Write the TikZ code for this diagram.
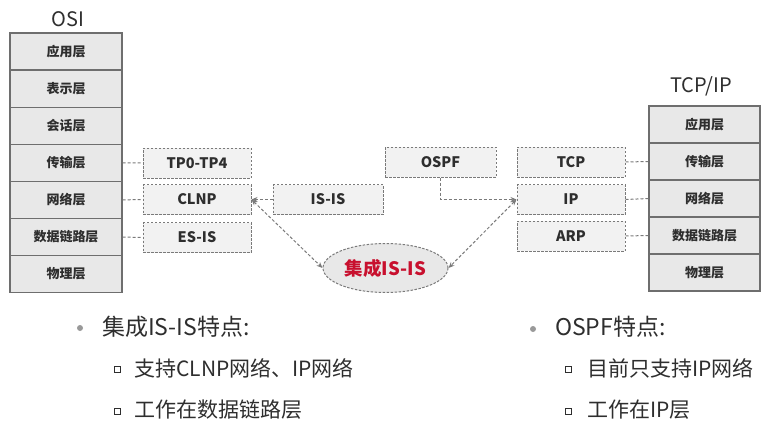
\documentclass[tikz,border=0pt]{standalone}
\usepackage{fontspec}
\setmainfont{Noto Sans CJK SC}
\usetikzlibrary{arrows.meta,shapes.geometric}

\definecolor{layerfill}{HTML}{E8E8E8}
\definecolor{layerline}{HTML}{6E6E6E}
\definecolor{boxfill}{HTML}{F2F2F2}
\definecolor{boxline}{HTML}{7A7A7A}
\definecolor{txt}{HTML}{2E2E2E}
\definecolor{corered}{HTML}{C8102E}

\begin{document}
\begin{tikzpicture}[x=1pt, y=-1pt,
    layer/.style={draw=layerline, fill=layerfill, line width=1.1pt,
      minimum width=112pt, minimum height=37pt, inner sep=0pt, text=txt,
      font=\fontsize{13}{13}\selectfont\bfseries},
    proto/.style={draw=boxline, fill=boxfill, line width=1pt,
      dash pattern=on 2.5pt off 1.5pt, minimum width=108pt, minimum height=30pt,
      inner sep=0pt, text=txt, font=\fontsize{14.5}{14.5}\selectfont\bfseries},
    link/.style={draw=boxline, line width=1pt, dash pattern=on 3pt off 2pt},
    tipend/.style={-{Stealth[length=6pt,width=5pt]}},
    tipboth/.style={{Stealth[length=6pt,width=5pt]}-{Stealth[length=6pt,width=5pt]}},
    title/.style={text=txt, font=\fontsize{20}{20}\selectfont},
    point/.style={anchor=west, inner sep=0pt, text=txt, font=\fontsize{23}{23}\selectfont},
    subpoint/.style={anchor=west, inner sep=0pt, text=txt, font=\fontsize{21}{21}\selectfont}]
    \useasboundingbox (0,0) rectangle (763,423);

    % OSI stack
    \node[title] (osi) at (68,19) {OSI};
    \foreach \n/\t in {1/应用层, 2/表示层, 3/会话层, 4/传输层, 5/网络层, 6/数据链路层, 7/物理层}
        \node[layer] (osi\n) at (66,{51.5+37.1*(\n-1)}) {\t};

    % TCP/IP stack
    \node[title] (tcpip) at (701,86) {TCP/IP};
    \foreach \n/\t in {1/应用层, 2/传输层, 3/网络层, 4/数据链路层, 5/物理层}
        \node[layer, minimum width=111pt] (tip\n) at (704.5,{124.5+37*(\n-1)}) {\t};

    % protocol boxes
    \node[proto] (tp) at (197,163) {TP0-TP4};
    \node[proto] (clnp) at (197,199.5) {CLNP};
    \node[proto] (esis) at (197,237.5) {ES-IS};
    \node[proto, minimum width=110pt] (isis) at (328,199.5) {IS-IS};
    \node[proto, minimum width=111pt] (ospf) at (440.5,162) {OSPF};
    \node[proto] (tcp) at (571,162) {TCP};
    \node[proto] (ip) at (571,199.5) {IP};
    \node[proto] (arp) at (571,236) {ARP};

    % integrated IS-IS
    \node[ellipse, draw=boxline, fill=layerfill, line width=1pt,
      dash pattern=on 2.5pt off 1.5pt, minimum width=125pt, minimum height=49pt,
      text=corered, font=\fontsize{18.5}{18.5}\selectfont\bfseries] (core) at (385.5,268) {集成IS-IS};

    % links to the layers
    \draw[link] (osi4.east) -- (tp.west);
    \draw[link] (osi5.east) -- (clnp.west);
    \draw[link] (osi6.east) -- (esis.west);
    \draw[link] (tcp.east) -- (tip2.west);
    \draw[link] (ip.east) -- (tip3.west);
    \draw[link] (arp.east) -- (tip4.west);

    % arrows
    \draw[link, tipend] (isis.west) -- (clnp.east);
    \draw[link, tipend] (ospf.south) |- (ip.west);
    \draw[link, tipboth] (clnp.east) -- (core.west);
    \draw[link, tipboth] (ip.west) -- (core.east);

    % notes on the left
    \fill[black!40] (80,328) circle (3pt);
    \node[point] (isnote) at (102,327) {集成IS-IS特点:};
    \node[draw=txt, line width=1pt, minimum size=6pt, inner sep=0pt] (sqa) at (117,369) {};
    \node[subpoint] (isnotea) at (134,368) {支持CLNP网络、IP网络};
    \node[draw=txt, line width=1pt, minimum size=6pt, inner sep=0pt] (sqb) at (117,411) {};
    \node[subpoint] (isnoteb) at (134,410) {工作在数据链路层};

    % notes on the right
    \fill[black!40] (533,329) circle (3pt);
    \node[point] (osnote) at (555,327) {OSPF特点:};
    \node[draw=txt, line width=1pt, minimum size=6pt, inner sep=0pt] (sqc) at (568,369) {};
    \node[subpoint] (osnotea) at (587,368) {目前只支持IP网络};
    \node[draw=txt, line width=1pt, minimum size=6pt, inner sep=0pt] (sqd) at (568,411) {};
    \node[subpoint] (osnoteb) at (587,410) {工作在IP层};
\end{tikzpicture}
\end{document}
